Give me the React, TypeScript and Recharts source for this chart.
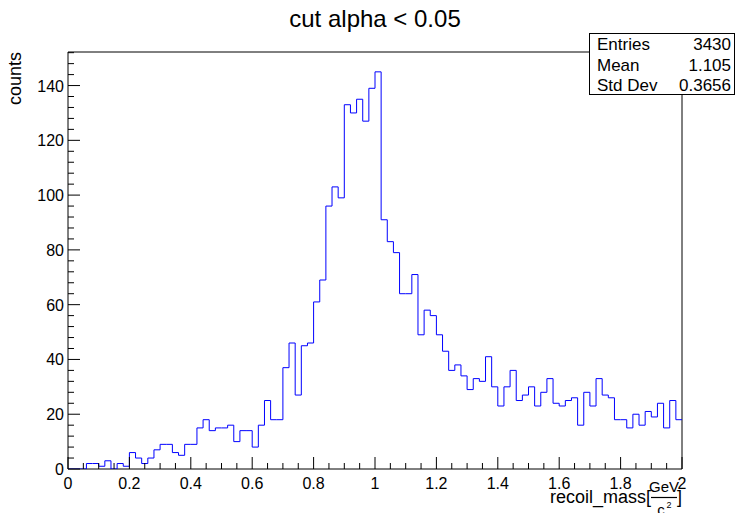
import { LineChart, Line, XAxis, YAxis, ReferenceArea } from 'recharts'

const FONT = '"Liberation Sans", Arial, Helvetica, sans-serif'

// bin contents, 100 bins of 0.02 from 0 to 2
const counts = [
  0, 0, 0, 2, 2, 1, 3, 0, 2, 1,
  6, 4, 2, 4, 7, 9, 9, 6, 5, 9,
  9, 15, 18, 14, 15, 15, 16, 10, 14, 14,
  8, 16, 25, 18, 18, 37, 46, 27, 45, 46,
  61, 69, 96, 103, 99, 133, 130, 135, 127, 139,
  145, 91, 83, 79, 64, 64, 71, 49, 58, 56,
  49, 43, 36, 38, 34, 29, 33, 32, 41, 30,
  23, 30, 36, 25, 27, 30, 23, 28, 33, 24,
  23, 25, 26, 16, 28, 23, 33, 27, 26, 18,
  18, 15, 20, 16, 21, 19, 24, 15, 25, 18,
]
const binWidth = 0.02
const xMin = 0
const xMax = 2
const yMax = 152.25

const xMajor = [0, 0.2, 0.4, 0.6, 0.8, 1, 1.2, 1.4, 1.6, 1.8, 2]
const xTicks = Array.from({ length: 41 }, (_, i) => +(i * 0.05).toFixed(2))
const yMajor = [0, 20, 40, 60, 80, 100, 120, 140]
const yTicks = Array.from({ length: 39 }, (_, i) => i * 4)

const statsLabels = ['Entries', 'Mean', 'Std Dev']
const statsValues = ['3430', '1.105', '0.3656']

const histData = [
  ...counts.map((c, i) => ({ x: +(i * binWidth).toFixed(2), y: c })),
  { x: xMax, y: counts[counts.length - 1] },
]

const isMajor = (list: number[], v: number) => list.some((m) => Math.abs(m - v) < 1e-6)

const XTick = (props: any) => {
  const { x, y, payload } = props
  const major = isMajor(xMajor, payload.value)
  return (
    <g>
      <line x1={x} x2={x} y1={y} y2={y - (major ? 12 : 6)} stroke="#000" />
      {major && (
        <text x={x} y={y + 20} textAnchor="middle" fontSize={16} fontFamily={FONT} fill="#000">
          {String(payload.value)}
        </text>
      )}
    </g>
  )
}

const YTick = (props: any) => {
  const { x, y, payload } = props
  const major = isMajor(yMajor, payload.value)
  return (
    <g>
      <line x1={x} x2={x + (major ? 12 : 6)} y1={y} y2={y} stroke="#000" />
      {major && (
        <text x={x - 4} y={y + 6} textAnchor="end" fontSize={16} fontFamily={FONT} fill="#000">
          {String(payload.value)}
        </text>
      )}
    </g>
  )
}

export default function App() {
  return (
    <div style={{ position: 'absolute', left: 0, top: 0, width: 738, height: 513, background: '#fff', fontFamily: FONT }}>
      <LineChart
        width={738}
        height={513}
        data={histData}
        margin={{ top: 52, right: 56, left: 8, bottom: 14 }}
      >
        <XAxis
          dataKey="x"
          type="number"
          domain={[xMin, xMax]}
          ticks={xTicks}
          interval={0}
          tickSize={0}
          tickMargin={0}
          tick={XTick}
          axisLine={false}
          height={30}
          allowDataOverflow
        />
        <YAxis
          type="number"
          domain={[0, yMax]}
          ticks={yTicks}
          interval={0}
          tickSize={0}
          tickMargin={0}
          tick={YTick}
          axisLine={false}
          width={60}
          allowDataOverflow
        />
        <ReferenceArea x1={xMin} x2={xMax} y1={0} y2={yMax} fill="none" fillOpacity={0} stroke="#000" strokeWidth={1} />
        <Line
          type="stepAfter"
          dataKey="y"
          stroke="#0000ff"
          strokeWidth={1}
          dot={false}
          activeDot={false}
          isAnimationActive={false}
        />
      </LineChart>

      <svg width={738} height={513} style={{ position: 'absolute', left: 0, top: 0, pointerEvents: 'none' }}>
        <text x={375} y={27} textAnchor="middle" fontSize={24} fontFamily={FONT} fill="#000">
          cut alpha &lt; 0.05
        </text>
        <text transform="translate(21,52) rotate(-90)" textAnchor="end" fontSize={18} fontFamily={FONT} fill="#000">
          counts
        </text>
        <text x={651} y={503} textAnchor="end" fontSize={18} fontFamily={FONT} fill="#000">
          recoil_mass[
        </text>
        <text x={664} y={492} textAnchor="middle" fontSize={15} fontFamily={FONT} fill="#000">
          GeV
        </text>
        <line x1={651} x2={677} y1={497.5} y2={497.5} stroke="#000" strokeWidth={1.2} />
        <text x={661} y={515} textAnchor="middle" fontSize={15} fontFamily={FONT} fill="#000">
          c
        </text>
        <text x={669} y={508} textAnchor="middle" fontSize={9} fontFamily={FONT} fill="#000">
          2
        </text>
        <text x={677} y={503} fontSize={18} fontFamily={FONT} fill="#000">
          ]
        </text>
      </svg>

      <div
        style={{
          position: 'absolute',
          left: 589,
          top: 33,
          width: 146,
          height: 62,
          border: '1px solid #000',
          background: '#fff',
          boxSizing: 'border-box',
        }}
      >
        {statsLabels.map((label, i) => (
          <div
            key={label}
            style={{
              position: 'absolute',
              left: 7,
              right: 3,
              top: 1 + i * 20.5,
              height: 20,
              lineHeight: '20px',
              fontSize: 17,
              display: 'flex',
              justifyContent: 'space-between',
              color: '#000',
            }}
          >
            <span>{label}</span>
            <span>{statsValues[i]}</span>
          </div>
        ))}
      </div>
    </div>
  )
}
